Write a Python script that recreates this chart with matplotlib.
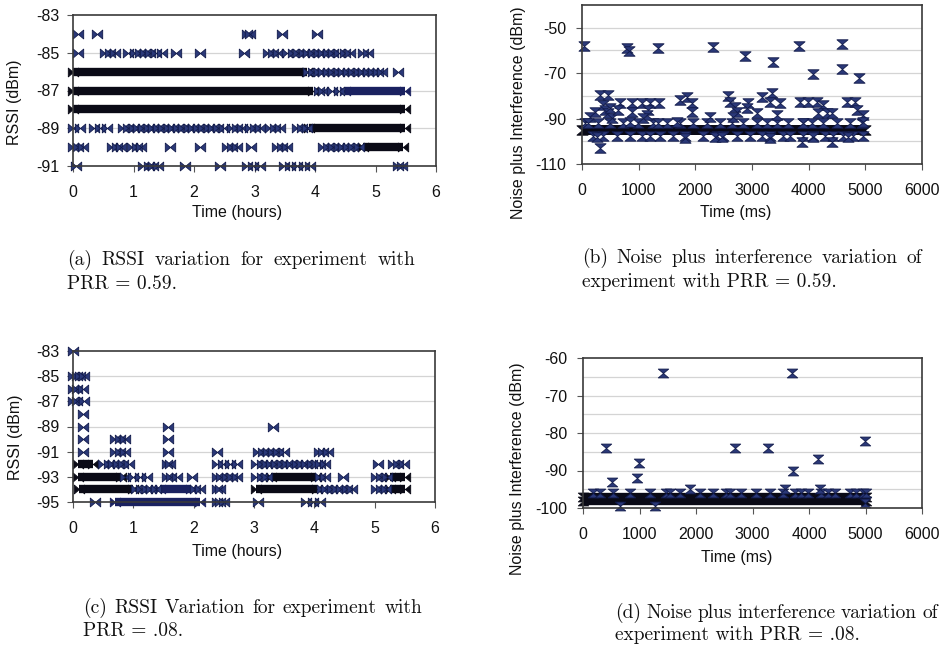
import numpy as np
import matplotlib
matplotlib.use("Agg")
import matplotlib.pyplot as plt
from matplotlib.path import Path

# ======================= DATA =======================
# (a) RSSI for PRR = 0.59 : sparse readings (hours) per RSSI level (dBm)
a_m84 = [0.09, 0.39, 2.87, 2.93, 3.45, 4.03]
a_m85 = [0.09, 0.53, 0.61, 0.69, 0.91, 1.02, 1.11, 1.19, 1.27, 1.38, 1.47, 1.71, 2.10,
         2.82, 3.23, 3.31, 3.39, 3.53, 3.64, 3.72, 3.81, 3.89, 3.97, 4.06, 4.14, 4.22,
         4.30, 4.39, 4.50, 4.58, 4.80, 4.88]
a_m86 = [3.89, 3.97, 4.06, 4.14, 4.22, 4.30, 4.39, 4.47, 4.55, 4.63, 4.72, 4.80, 4.88,
         4.96, 5.04, 5.10, 5.38]
a_m87 = [4.06, 4.14, 4.28, 4.39]
a_m89 = [0.0, 0.11, 0.34, 0.45, 0.56, 0.83, 0.91, 1.0, 1.08, 1.16, 1.25, 1.33, 1.41, 1.49,
         1.58, 1.66, 1.74, 1.82, 1.91, 1.99, 2.07, 2.15, 2.24, 2.32, 2.40, 2.49, 2.62,
         2.71, 2.79, 2.92, 3.01, 3.09, 3.26, 3.34, 3.42, 3.70, 3.78, 3.86]
a_m90 = [0.0, 0.09, 0.17, 0.64, 0.72, 0.80, 0.97, 1.05, 1.13, 1.60, 2.10, 2.54, 2.62, 2.71,
         2.95, 3.37, 3.45, 3.53, 4.14, 4.22, 4.30, 4.39, 4.47, 4.55, 4.63, 4.72]
a_m91 = [0.05, 1.16, 1.25, 1.33, 1.41, 1.85, 2.43, 2.87, 2.98, 3.09, 3.48, 3.59, 3.70,
         3.81, 3.92, 5.38, 5.43]
# continuous runs of readings (level, start hour, end hour)
a_run_lvl = [-86, -87, -88, -89, -90]
a_run_start = [0.0, 0.0, 0.0, 3.90, 4.80]
a_run_end = [3.86, 3.97, 5.49, 5.49, 5.46]
a_run2_lvl = [-87]
a_run2_start = [4.50]
a_run2_end = [5.49]

# (c) RSSI for PRR = .08
c_m83 = [0.0]
c_m85 = [0.0, 0.06, 0.12, 0.19]
c_m86 = [0.0, 0.07, 0.17]
c_m87 = [0.0, 0.07, 0.18]
c_m88 = [0.16]
c_m89 = [0.16, 1.58, 3.32]
c_m90 = [0.16, 0.69, 0.78, 0.86, 1.58]
c_m91 = [0.16, 0.69, 0.78, 0.86, 1.58, 2.38, 3.07, 3.15, 3.24, 3.32, 3.40, 3.49, 4.07,
         4.15, 4.23]
c_m92 = [0.50, 0.59, 0.67, 0.75, 0.83, 0.92, 1.55, 1.61, 2.38, 2.49, 2.60, 2.71, 3.04,
         3.13, 3.21, 3.29, 3.37, 3.46, 3.54, 3.62, 3.71, 3.79, 3.87, 3.96, 4.04, 4.09,
         4.18, 5.06, 5.31, 5.39, 5.48]
c_m93 = [0.86, 1.0, 1.11, 1.22, 1.55, 1.62, 1.72, 1.97, 2.38, 2.46, 2.55, 2.63, 2.71,
         3.04, 3.13, 3.21, 4.09, 4.18, 4.48, 5.03, 5.11, 5.20]
c_m94 = [1.05, 1.13, 1.22, 1.30, 1.38, 2.02, 2.10, 2.38, 2.44, 4.12, 4.20, 4.29, 4.37,
         4.45, 4.54, 4.62, 5.03, 5.11, 5.18]
c_m95 = [0.36, 2.38, 2.44, 2.50, 3.07, 3.87, 3.98, 4.09]
c_run_lvl = [-92, -93, -93, -93, -94, -94, -94]
c_run_start = [0.08, 0.08, 3.29, 5.25, 0.10, 3.04, 5.25]
c_run_end = [0.33, 0.80, 4.02, 5.50, 1.00, 4.04, 5.50]
c_run2_lvl = [-94, -95]
c_run2_start = [1.45, 0.70]
c_run2_end = [1.95, 2.10]

# (b) Noise plus interference, PRR = 0.59 (ms, dBm)
b_x = [35, 788, 830, 1347, 2306, 2876, 3376, 3835, 4071, 4594, 4594, 4888,
       141, 112, 235, 318, 465, 376, 406, 465, 494, 524, 318, 259, 670, 641, 876, 876,
       1053, 1200, 1170, 1141, 1365, 847, 1082, 1347, 1730, 1847, 1935, 1935, 1818,
       1671, 2259, 2347, 2465, 2583, 2612, 2700, 2730, 2671, 2935, 2906, 3083, 3171,
       3347, 3318, 3494, 3436, 3318, 3847, 3994, 4141, 4259, 4171, 4318, 4406, 3877,
       4082, 4406, 4670, 4818, 4847, 4965, 4965, 4700, 3906]
b_y = [-58.2, -58.9, -60.2, -58.9, -58.5, -62.6, -65.2, -58.2, -70.4, -57.3, -68.1, -72.3,
       -89.1, -92, -86.9, -79.6, -79.6, -84, -86.2, -87.7, -85.5, -89.9, -103, -97.9,
       -83.3, -86.2, -83.3, -86.9, -83.3, -83.3, -86.2, -88.4, -83.3, -91.3, -89.9, -92,
       -81.8, -80.4, -83.3, -86.9, -98.6, -91.3, -89.1, -97.9, -97.9, -80.1, -82.5,
       -84.7, -86.9, -89.1, -83.3, -85.5, -87.7, -80.4, -78.9, -82.5, -83.3, -88.4,
       -98.6, -82.5, -82.5, -82.5, -84, -87.7, -87.7, -87.7, -100.1, -97.9, -100.1,
       -82.5, -82.5, -86.2, -88.4, -91.3, -97.9, -92]
b_hi_x = [53, 288, 494, 729, 994, 1259, 1494, 1729, 1965, 2200, 2435, 2641, 2847, 3082,
          3259, 3435, 3641, 3906, 4053, 4259, 4494, 4729, 4935]
b_lo_x = [200, 376, 612, 847, 1053, 1200, 1376, 1612, 1818, 2141, 2377, 2494, 2730, 2965,
          3171, 3318, 3553, 3671, 3906, 4082, 4288, 4435, 4612, 4788, 4965]
b_run_lvl = [-95]
b_run_start = [0]
b_run_end = [5000]

# (d) Noise plus interference, PRR = .08 (ms, dBm)
d_x = [1416, 3705, 401, 2685, 3275, 4986, 985, 962, 519, 4160, 3717, 649, 1280, 4986]
d_y = [-64, -64, -84, -84, -84, -82, -88, -92, -93, -87, -90, -99.4, -99.4, -98.7]
d_m95 = [1888, 3570, 4189]
d_m96 = [177, 295, 531, 826, 1180, 1475, 1534, 1711, 2065, 2301, 2537, 2596, 2802, 3068,
         3304, 3540, 3747, 3865, 3983, 4219, 4337, 4455, 4720, 4838, 4956, 5000]
d_run_lvl = [-97, -98]
d_run_start = [0, 0]
d_run_end = [5000, 5000]

# captions
cap_a = ["(a) RSSI variation for experiment with", "PRR = 0.59."]
cap_b = ["(b) Noise plus interference variation of", "experiment with PRR = 0.59."]
cap_c = ["(c) RSSI Variation for experiment with", "PRR = .08."]
cap_d = ["(d) Noise plus interference variation of", "experiment with PRR = .08."]

# ======================= STYLE =======================
plt.rcParams["font.family"] = ["Liberation Sans", "DejaVu Sans"]
plt.rcParams["axes.unicode_minus"] = False

NAVY = "#2a3878"
EDGE = "#111a4a"
DARK = "#0a0a16"
FS = 11.5

bowtie = Path([(-1, 0.85), (0, 0), (-1, -0.85), (-1, 0.85),
               (1, 0.85), (0, 0), (1, -0.85), (1, 0.85)],
              [Path.MOVETO, Path.LINETO, Path.LINETO, Path.CLOSEPOLY,
               Path.MOVETO, Path.LINETO, Path.LINETO, Path.CLOSEPOLY])
hourglass = Path([(-1, 0.85), (1, 0.85), (0, 0), (-1, 0.85),
                  (-1, -0.85), (1, -0.85), (0, 0), (-1, -0.85)],
                 [Path.MOVETO, Path.LINETO, Path.LINETO, Path.CLOSEPOLY,
                  Path.MOVETO, Path.LINETO, Path.LINETO, Path.CLOSEPOLY])

W, H = 943, 649
fig = plt.figure(figsize=(W / 100, H / 100), dpi=100)


def px_axes(l, t, r, b):
    return fig.add_axes([l / W, 1 - b / H, (r - l) / W, (b - t) / H])


def pts(ax, xs, ys, marker, ms, color=NAVY, edge=EDGE):
    ax.plot(xs, ys, ls="none", marker=marker, ms=ms, mfc=color, mec=edge,
            mew=0.6, zorder=4, clip_on=False)


def runs(ax, lv, st, en, marker, ms, lw, color):
    ax.hlines(lv, st, en, colors=color, lw=lw, zorder=3, clip_on=False)
    pts(ax, list(st) + list(en), list(lv) + list(lv), marker, ms, color, color)


def style(ax, xlim, xticks, ylim, yticks, gridticks, xlabel, ylabel,
          xpad, ypad, xl_pos, yl_pos):
    ax.set_xlim(*xlim)
    ax.set_ylim(*ylim)
    ax.set_xticks(xticks)
    ax.set_xticklabels([str(v) for v in xticks])
    ax.set_yticks(yticks)
    ax.set_yticklabels([str(v) for v in yticks])
    for g in gridticks:
        ax.axhline(g, color="#d4d4d4", lw=0.9, zorder=1)
    for s in ax.spines.values():
        s.set_color("#3a3a3a")
        s.set_linewidth(1.2)
        s.set_zorder(5)
    ax.tick_params(direction="out", length=4, width=0.8, color="#555555",
                   labelsize=FS, labelcolor="#111111")
    ax.tick_params(axis="x", pad=xpad)
    ax.tick_params(axis="y", pad=ypad)
    ax.set_xlabel(xlabel, fontsize=FS, color="#111111")
    ax.set_ylabel(ylabel, fontsize=FS, color="#111111")
    ax.xaxis.set_label_coords(*xl_pos)
    ax.xaxis.label.set_va("center")
    ax.yaxis.set_label_coords(*yl_pos)
    ax.yaxis.label.set_va("center")


# ---------------- (a) ----------------
MS_A = 7.5
LW_A = 6.0
axa = px_axes(73, 15, 436, 166)
style(axa, (0, 6), [0, 1, 2, 3, 4, 5, 6], (-91, -83), [-91, -89, -87, -85, -83],
      [-89, -87, -85], "Time (hours)", "RSSI (dBm)", 10, 5.5,
      (0.452, -0.311), (-0.160, 0.424))
runs(axa, a_run_lvl, a_run_start, a_run_end, bowtie, MS_A, LW_A, DARK)
runs(axa, a_run2_lvl, a_run2_start, a_run2_end, bowtie, MS_A, LW_A, "#1a2160")
for lv, xs in [(-84, a_m84), (-85, a_m85), (-86, a_m86), (-87, a_m87),
               (-89, a_m89), (-90, a_m90), (-91, a_m91)]:
    pts(axa, xs, [lv] * len(xs), bowtie, MS_A)

# ---------------- (c) ----------------
axc = px_axes(73, 351, 435, 502)
style(axc, (0, 6), [0, 1, 2, 3, 4, 5, 6], (-95, -83),
      [-95, -93, -91, -89, -87, -85, -83], [-93, -91, -89, -87, -85],
      "Time (hours)", "RSSI (dBm)", 10, 5.5, (0.453, -0.331), (-0.160, 0.430))
runs(axc, c_run_lvl, c_run_start, c_run_end, bowtie, MS_A, LW_A, DARK)
runs(axc, c_run2_lvl, c_run2_start, c_run2_end, bowtie, MS_A, LW_A, "#1a2160")
for lv, xs in [(-83, c_m83), (-85, c_m85), (-86, c_m86), (-87, c_m87), (-88, c_m88),
               (-89, c_m89), (-90, c_m90), (-91, c_m91), (-92, c_m92), (-93, c_m93),
               (-94, c_m94), (-95, c_m95)]:
    pts(axc, xs, [lv] * len(xs), bowtie, MS_A)

# ---------------- (b) ----------------
MS_B = 8
axb = px_axes(582, 5, 922, 164)
style(axb, (0, 6000), [0, 1000, 2000, 3000, 4000, 5000, 6000], (-110, -40),
      [-110, -90, -70, -50], [-100, -90, -80, -70, -60, -50],
      "Time (ms)", "Noise plus Interference (dBm)", 10, 7.5,
      (0.453, -0.306), (-0.188, 0.32))
runs(axb, b_run_lvl, b_run_start, b_run_end, hourglass, MS_B, 7.2, DARK)
pts(axb, b_hi_x, [-92] * len(b_hi_x), hourglass, MS_B)
pts(axb, b_lo_x, [-97.5] * len(b_lo_x), hourglass, MS_B)
pts(axb, b_x, b_y, hourglass, MS_B)

# ---------------- (d) ----------------
MS_D = 7.5
axd = px_axes(583, 358, 922, 508)
style(axd, (0, 6000), [0, 1000, 2000, 3000, 4000, 5000, 6000], (-100, -60),
      [-100, -90, -80, -70, -60], [-95, -90, -85, -80, -75, -70, -65],
      "Time (ms)", "Noise plus Interference (dBm)", 10, 7.5,
      (0.454, -0.333), (-0.192, 0.263))
runs(axd, d_run_lvl, d_run_start, d_run_end, hourglass, MS_D, 6, DARK)
pts(axd, d_m96, [-96] * len(d_m96), hourglass, MS_D)
pts(axd, d_m95, [-95] * len(d_m95), hourglass, MS_D)
pts(axd, d_x, d_y, hourglass, MS_D)

# ---------------- captions (LaTeX-like justified first line) ----------------
CAP = dict(family="cmr10", fontsize=14, va="center", ha="left", color="#111111")
renderer = fig.canvas.get_renderer()


def caption(lines, x0, x1, y1, y2):
    words = lines[0].split()
    objs = [fig.text(0, 1 - y1 / H, w, **CAP) for w in words]
    widths = [o.get_window_extent(renderer).width for o in objs]
    gap = (x1 - x0 - sum(widths)) / (len(words) - 1)
    x = x0
    for o, w in zip(objs, widths):
        o.set_x(x / W)
        x += w + gap
    fig.text(x0 / W, 1 - y2 / H, lines[1], **CAP)


caption(cap_a, 67, 415, 260, 284)
caption(cap_b, 582, 922, 258, 282)
caption(cap_c, 83, 422, 608, 631)
caption(cap_d, 615, 938, 613, 635)

fig.savefig("out.png", dpi=100)
